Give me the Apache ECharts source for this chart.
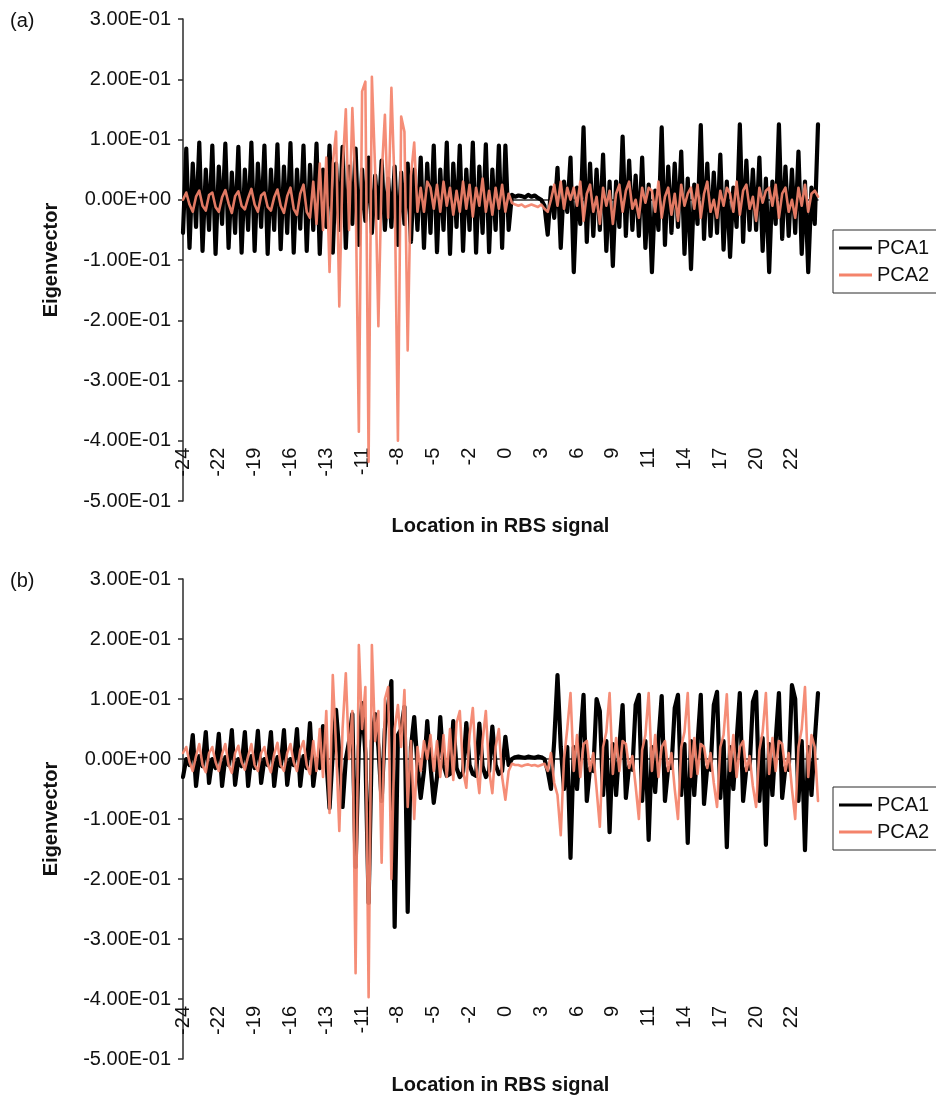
<!DOCTYPE html>
<html>
<head>
<meta charset="utf-8">
<script src="https://cdn.jsdelivr.net/npm/echarts@6/dist/echarts.min.js"></script>
<style>
html,body{margin:0;padding:0;background:#fff;}
#chart{width:936px;height:1105px;}
</style>
</head>
<body>
<div id="chart"></div>
<script>
// Positions along the RBS signal (4 samples per position)
const positions = [-24,-23,-22,-21,-20,-19,-18,-17,-16,-15,-14,-13,-12,-11,-10,-9,-8,-7,-6,-5,-4,-3,-2,-1,0,1,2,3,4,5,6,7,8,9,10,11,12,13,14,15,16,17,18,19,20,21,22,23,24];
const samplesPerPosition = 4;
const seriesNames = ['PCA1', 'PCA2'];
const yTicks = [-0.5, 0.3, 0.1]; // min, max, step

// Panel (a)
const a_PCA1 = [
-0.055,0.085,-0.08,0.06, -0.045,0.095,-0.085,0.05, -0.05,0.09,-0.09,0.055, -0.04,0.093,-0.08,0.045,
-0.055,0.088,-0.088,0.05, -0.05,0.095,-0.085,0.06, -0.045,0.09,-0.09,0.05, -0.05,0.092,-0.082,0.055,
-0.055,0.094,-0.088,0.05, -0.048,0.09,-0.085,0.058, -0.05,0.093,-0.09,0.05, -0.045,0.09,-0.088,0.06,
-0.05,0.088,-0.08,0.055, -0.04,0.085,-0.075,0.05, -0.035,0.07,-0.055,0.04, -0.03,0.065,-0.05,0.035,
-0.045,0.055,-0.075,0.045, -0.04,0.06,-0.07,0.05, -0.05,0.07,-0.08,0.06, -0.055,0.09,-0.087,0.05,
-0.05,0.095,-0.09,0.06, -0.045,0.09,-0.085,0.05, -0.05,0.095,-0.088,0.055, -0.055,0.092,-0.087,0.05,
-0.05,0.09,-0.08,0.09, -0.05,0.008,0.005,0.007, 0.006,0.004,0.008,0.005, 0.007,0.003,0.0,-0.01,
-0.058,0.02,-0.03,0.053, -0.08,0.03,-0.02,0.07,
-0.12,0.02,-0.04,0.12,-0.07,0.06,-0.06,0.05,-0.05,0.075,-0.085,0.03,
-0.11,0.03,-0.045,0.105,-0.06,0.065,-0.05,0.04,-0.06,0.07,-0.08,0.025,
-0.12,0.015,-0.05,0.12,-0.075,0.055,-0.055,0.06,-0.045,0.08,-0.09,0.035,
-0.115,0.025,-0.04,0.124,-0.065,0.06,-0.06,0.045,-0.055,0.075,-0.083,0.03,
-0.095,0.02,-0.045,0.125,-0.07,0.065,-0.05,0.05,-0.05,0.07,-0.085,0.035,
-0.12,0.03,-0.04,0.125,-0.065,0.055,-0.06,0.05,-0.055,0.08,-0.09,0.03,
-0.12,0.02,-0.04,0.125
];
const a_PCA2 = [
0.0,0.012,-0.008,-0.02, 0.005,0.015,-0.01,-0.018, 0.008,0.012,-0.012,-0.02, 0.004,0.016,-0.006,-0.022,
0.006,0.014,-0.01,-0.016, 0.003,0.018,-0.008,-0.02, 0.007,0.012,-0.012,-0.018, 0.004,0.017,-0.01,-0.022,
0.006,0.02,-0.015,-0.025, 0.01,0.025,-0.02,-0.03,
0.03,-0.04,0.06,-0.05, 0.07,-0.12,0.06,0.113, -0.177,0.05,0.15,-0.05, 0.152,0.02,-0.385,0.18,
0.196,-0.435,0.204,0.05, -0.21,0.04,0.141,-0.03, 0.186,0.02,-0.40,0.138, 0.113,-0.25,0.04,0.095,
-0.02,0.02,-0.02,0.03,
0.02,-0.015,0.025,-0.02, 0.03,-0.01,0.02,-0.025, 0.015,-0.02,0.03,-0.015, 0.025,-0.028,0.02,-0.01,
0.035,-0.02,0.015,-0.025, 0.02,-0.015,0.025,-0.02,
0.01,-0.005,-0.008,-0.01, -0.008,-0.012,-0.01,-0.008, -0.01,-0.012,-0.008,-0.015,
-0.02,0.0,0.025,-0.01, 0.03,-0.015,0.02,0.0,
0.02,-0.01,0.03,-0.035,0.01,0.025,-0.02,0.005,-0.04,0.02,-0.01,0.015,
-0.04,0.01,0.025,-0.02,0.015,0.03,-0.015,0.0,-0.03,0.02,-0.005,0.02,
0.015,-0.02,0.03,-0.03,0.005,0.02,-0.025,0.01,-0.035,0.025,-0.01,0.01,
0.02,-0.015,0.025,-0.03,0.01,0.03,-0.02,0.0,-0.03,0.015,-0.01,0.02,
0.01,-0.02,0.03,-0.025,0.015,0.025,-0.015,0.005,-0.035,0.02,-0.005,0.015,
0.02,-0.01,0.025,-0.03,0.01,0.02,-0.02,0.0,-0.03,0.02,-0.01,0.025,
-0.02,0.01,0.015,0.005
];

// Panel (b)
const b_PCA1 = [
-0.03,0.0,-0.01,0.04, -0.045,0.005,-0.012,0.045, -0.04,0.0,-0.015,0.042, -0.045,0.003,-0.01,0.048,
-0.043,0.0,-0.012,0.045, -0.045,0.005,-0.015,0.047, -0.04,0.0,-0.01,0.045, -0.045,0.003,-0.012,0.048,
-0.043,0.0,-0.01,0.05, -0.045,0.005,-0.015,0.06,
-0.045,0.0,-0.015,0.055, 0.0,-0.082,0.01,0.082, 0.01,-0.08,0.0,0.03, 0.075,-0.18,0.02,0.093,
0.01,-0.24,0.03,0.075, 0.02,-0.07,0.05,0.09, 0.13,-0.28,0.04,0.05, 0.087,-0.255,0.02,0.07,
-0.01,-0.065,-0.02,0.063, -0.01,-0.073,-0.03,0.07,
-0.01,-0.028,-0.025,0.063, -0.015,-0.03,-0.022,0.06, -0.01,-0.025,-0.028,0.059, -0.012,-0.03,-0.02,0.054,
-0.01,-0.025,-0.02,0.037,
-0.01,0.0,0.003,0.004, 0.003,0.002,0.004,0.003, 0.002,0.004,0.003,0.0, -0.02,-0.05,0.03,0.14,
0.02,-0.05,0.02,
-0.165,0.02,-0.05,0.03,0.107,-0.07,-0.015,-0.02,0.1,0.08,-0.06,0.03,
-0.122,0.025,-0.06,0.02,0.09,-0.065,-0.012,-0.018,0.09,0.107,-0.07,0.03,
-0.135,0.02,-0.055,0.03,0.105,-0.07,-0.015,-0.015,0.085,0.107,-0.06,0.025,
-0.14,0.03,-0.06,0.025,0.107,-0.075,-0.013,-0.018,0.09,0.112,-0.065,0.03,
-0.147,0.02,-0.05,0.03,0.11,-0.07,-0.015,-0.016,0.095,0.112,-0.07,0.035,
-0.143,0.025,-0.06,0.03,0.11,-0.065,-0.014,-0.018,0.123,0.1,-0.07,0.03,
-0.152,0.02,-0.06,0.03,0.11
];
const b_PCA2 = [
0.01,0.02,-0.005,-0.02, 0.005,0.025,-0.01,-0.022, 0.01,0.02,-0.005,-0.02, 0.008,0.025,-0.01,-0.023,
0.01,0.022,-0.005,-0.018, 0.005,0.025,-0.01,-0.02, 0.01,0.02,-0.008,-0.022, 0.008,0.027,-0.01,-0.02,
0.01,0.025,-0.005,-0.02, 0.015,0.03,-0.01,-0.025,
0.03,-0.02,0.05,-0.03, 0.08,-0.09,0.14,0.02, -0.12,0.05,0.143,0.0, 0.08,-0.357,0.19,0.05,
0.12,-0.397,0.19,0.03, 0.08,-0.173,0.1,0.12, -0.2,0.05,0.09,0.02, 0.115,-0.08,0.03,-0.1,
0.02,-0.02,0.03,0.0, 0.04,-0.02,0.03,-0.03,
0.04,-0.03,0.05,-0.035, 0.06,0.08,-0.02,-0.048, 0.04,0.085,-0.01,-0.057, 0.03,0.08,-0.02,-0.057,
0.02,0.05,-0.03,-0.068,
-0.02,-0.008,-0.01,-0.01, -0.012,-0.01,-0.009,-0.011, -0.01,-0.012,-0.01,-0.008, -0.02,0.01,-0.04,-0.06,
-0.127,0.0,0.05,
0.11,-0.02,0.04,-0.03,0.025,0.03,-0.02,0.01,-0.05,-0.113,0.02,0.045,
0.11,-0.025,0.035,-0.02,0.03,0.025,-0.015,0.005,-0.045,-0.1,0.015,0.04,
0.11,-0.02,0.04,-0.03,0.02,0.03,-0.02,0.01,-0.05,-0.1,0.02,0.045,
0.11,-0.03,0.035,-0.025,0.025,0.02,-0.015,0.01,-0.04,-0.08,0.02,0.04,
0.108,-0.02,0.04,-0.03,0.02,0.03,-0.02,0.005,-0.045,-0.08,0.015,0.045,
0.11,-0.025,0.035,-0.02,0.03,0.025,-0.02,0.01,-0.05,-0.1,0.02,0.05,
0.12,-0.03,0.04,0.02,-0.07
];

// Category axis: each position repeated once per sample
const categories = [];
positions.forEach(p => { for (let k = 0; k < samplesPerPosition; k++) categories.push(String(p)); });

const FONT = '"Liberation Sans", Arial, sans-serif';
const BLACK = '#000000';
const SALMON = '#F4836B';
const AXIS = '#2b2b2b';

function sci(v) {
  const s = Number(v).toExponential(2);
  const parts = s.split('e');
  const n = parseInt(parts[1], 10);
  return parts[0] + 'E' + (n < 0 ? '-' : '+') + String(Math.abs(n)).padStart(2, '0');
}

const grids = [
  {left: 183, top: 19, width: 635, height: 482},
  {left: 183, top: 579, width: 635, height: 480}
];
const crossValue = -0.4;

const chart = echarts.init(document.getElementById('chart'), null, {renderer: 'canvas'});

const xAxes = grids.map((g, i) => {
  const pxPerUnit = g.height / (yTicks[1] - yTicks[0]);
  return {
    gridIndex: i,
    type: 'category',
    data: categories,
    boundaryGap: false,
    offset: -(crossValue - yTicks[0]) * pxPerUnit,
    axisLine: {show: true, lineStyle: {color: AXIS, width: 1.5}},
    axisTick: {show: false},
    axisLabel: {interval: 10, rotate: 90, fontSize: 20, color: '#111', margin: 7, fontFamily: FONT},
    splitLine: {show: false},
    name: 'Location in RBS signal',
    nameLocation: 'middle',
    nameGap: 76,
    nameTextStyle: {fontSize: 20, fontWeight: 'bold', color: '#111', fontFamily: FONT}
  };
});

const yAxes = grids.map((g, i) => ({
  gridIndex: i,
  type: 'value',
  min: yTicks[0],
  max: yTicks[1],
  interval: yTicks[2],
  axisLine: {show: true, lineStyle: {color: AXIS, width: 1.5}},
  axisTick: {show: true, inside: false, length: 5, lineStyle: {color: AXIS, width: 1.5}},
  axisLabel: {formatter: sci, fontSize: 20, color: '#111', margin: 12, fontFamily: FONT},
  splitLine: {show: false},
  name: 'Eigenvector',
  nameLocation: 'middle',
  nameGap: 122,
  nameRotate: 90,
  nameTextStyle: {fontSize: 20, fontWeight: 'bold', color: '#111', fontFamily: FONT}
}));

const panelData = [[a_PCA1, a_PCA2], [b_PCA1, b_PCA2]];
const colors = [BLACK, SALMON];
const widths = [4.2, 2.6];
const series = [];
panelData.forEach((pair, i) => {
  pair.forEach((vals, j) => {
    series.push({
      name: seriesNames[j],
      type: 'line',
      xAxisIndex: i,
      yAxisIndex: i,
      data: vals,
      symbol: 'none',
      showSymbol: false,
      smooth: false,
      clip: true,
      color: colors[j],
      lineStyle: {color: colors[j], width: widths[j], join: 'round', cap: 'round', opacity: j === 1 ? 0.92 : 1},
      z: 2 + j
    });
  });
});

const legendTops = [230, 787];
const legends = legendTops.map(t => ({
  data: seriesNames.map(n => ({name: n, icon: 'rect'})),
  orient: 'vertical',
  left: 833,
  top: t,
  itemWidth: 33,
  itemHeight: 3,
  itemGap: 7,
  padding: [8, 8, 8, 6],
  borderColor: AXIS,
  borderWidth: 1,
  selectedMode: false,
  textStyle: {fontSize: 20, color: '#111', fontFamily: FONT, lineHeight: 20}
}));

chart.setOption({
  animation: false,
  backgroundColor: '#ffffff',
  textStyle: {fontFamily: FONT},
  grid: grids,
  xAxis: xAxes,
  yAxis: yAxes,
  legend: legends,
  series: series,
  graphic: [
    {type: 'text', left: 10, top: 11, style: {text: '(a)', fontSize: 20, fill: '#111', fontFamily: FONT}},
    {type: 'text', left: 10, top: 571, style: {text: '(b)', fontSize: 20, fill: '#111', fontFamily: FONT}}
  ]
});
</script>
</body>
</html>
